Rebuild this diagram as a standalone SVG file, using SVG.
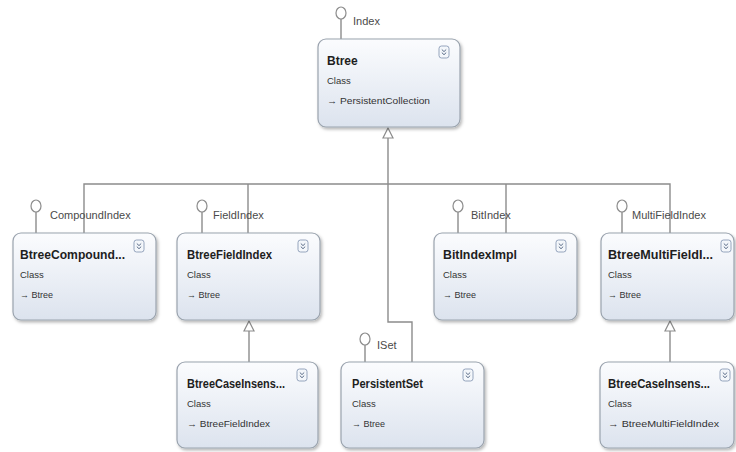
<svg xmlns="http://www.w3.org/2000/svg" width="736" height="452" viewBox="0 0 736 452">
<defs>
<linearGradient id="boxg" x1="0" y1="0" x2="0" y2="1">
<stop offset="0" stop-color="#fbfcfe"/>
<stop offset="1" stop-color="#dce3ee"/>
</linearGradient>
<filter id="sh" x="-10%" y="-10%" width="125%" height="130%">
<feDropShadow dx="1.5" dy="2" stdDeviation="1.5" flood-color="#000" flood-opacity="0.28"/>
</filter>
<g id="chev">
<rect x="0" y="0" width="10" height="12" rx="2.5" fill="#f4f7fb" stroke="#8a9bb5" stroke-width="0.9"/>
<path d="M2.8 3.5 L5 5.6 L7.2 3.5 M2.8 6.6 L5 8.7 L7.2 6.6" fill="none" stroke="#5a6c88" stroke-width="1"/>
</g>
</defs>
<style>
.box{fill:url(#boxg);stroke:#9aa3ae;stroke-width:1.2;filter:url(#sh)}
.nm{font-family:"Liberation Sans",Arial,sans-serif;font-size:12px;font-weight:bold;fill:#1e1e1e}
.cl{font-family:"Liberation Sans",Arial,sans-serif;font-size:9.5px;fill:#333}
.bs{font-family:"Liberation Sans",Arial,sans-serif;font-size:9px;fill:#333}
.ar{font-weight:bold}
.lb{font-family:"Liberation Sans",Arial,sans-serif;font-size:11px;fill:#4a4a4a}
.ln{fill:none;stroke:#8c8c8c;stroke-width:1.4}
.tri{fill:#fff;stroke:#8c8c8c;stroke-width:1.2}
.lol{fill:#fff;stroke:#8c8c8c;stroke-width:1.2}
</style>
<rect width="736" height="452" fill="#fff"/>

<g id="connectors">
<path class="ln" d="M388 138 V322 H412 V362"/>
<path class="ln" d="M84 233 V184 H670 V233"/>
<path class="ln" d="M248 184 V233"/>
<path class="ln" d="M506 184 V233"/>
<polygon class="tri" points="388,128 383,138 393,138"/>
<path class="ln" d="M249 331 V362"/>
<polygon class="tri" points="249,321 244,331 254,331"/>
<path class="ln" d="M670 331 V362"/>
<polygon class="tri" points="670,321 665,331 675,331"/>
</g>

<g id="node-btree">
<path class="ln" d="M341 19 V39"/>
<ellipse class="lol" cx="341" cy="13" rx="5" ry="6"/>
<text class="lb" x="353" y="25">Index</text>
<rect class="box" x="318" y="39" width="142" height="88" rx="8"/>
<text class="nm" x="327" y="65">Btree</text>
<text class="cl" x="327" y="84">Class</text>
<text class="bs" x="327" y="104" textLength="103" lengthAdjust="spacingAndGlyphs"><tspan class="ar">→</tspan> PersistentCollection</text>
<use href="#chev" x="439" y="46"/>
</g>

<g id="node-compound">
<path class="ln" d="M36 212 V233"/>
<ellipse class="lol" cx="36" cy="206" rx="5" ry="6"/>
<text class="lb" x="50" y="219">CompoundIndex</text>
<rect class="box" x="13" y="233" width="143" height="87" rx="8"/>
<text class="nm" x="20" y="259" textLength="105" lengthAdjust="spacingAndGlyphs">BtreeCompound...</text>
<text class="cl" x="20" y="278">Class</text>
<text class="bs" x="20" y="298"><tspan class="ar">→</tspan> Btree</text>
<use href="#chev" x="134" y="240"/>
</g>

<g id="node-fieldindex">
<path class="ln" d="M202 212 V233"/>
<ellipse class="lol" cx="202" cy="206" rx="5" ry="6"/>
<text class="lb" x="213" y="219">FieldIndex</text>
<rect class="box" x="177" y="233" width="143" height="87" rx="8"/>
<text class="nm" x="187" y="259" textLength="85" lengthAdjust="spacingAndGlyphs">BtreeFieldIndex</text>
<text class="cl" x="187" y="278">Class</text>
<text class="bs" x="187" y="298"><tspan class="ar">→</tspan> Btree</text>
<use href="#chev" x="298" y="240"/>
</g>

<g id="node-bitindex">
<path class="ln" d="M458 212 V233"/>
<ellipse class="lol" cx="458" cy="206" rx="5" ry="6"/>
<text class="lb" x="471" y="219">BitIndex</text>
<rect class="box" x="434" y="233" width="143" height="87" rx="8"/>
<text class="nm" x="443" y="259" textLength="74" lengthAdjust="spacingAndGlyphs">BitIndexImpl</text>
<text class="cl" x="443" y="278">Class</text>
<text class="bs" x="443" y="298"><tspan class="ar">→</tspan> Btree</text>
<use href="#chev" x="556" y="240"/>
</g>

<g id="node-multifield">
<path class="ln" d="M622 212 V233"/>
<ellipse class="lol" cx="622" cy="206" rx="5" ry="6"/>
<text class="lb" x="632" y="219">MultiFieldIndex</text>
<rect class="box" x="601" y="233" width="133" height="87" rx="8"/>
<text class="nm" x="608" y="259" textLength="105" lengthAdjust="spacingAndGlyphs">BtreeMultiFieldI...</text>
<text class="cl" x="608" y="278">Class</text>
<text class="bs" x="608" y="298"><tspan class="ar">→</tspan> Btree</text>
<use href="#chev" x="721" y="240"/>
</g>

<g id="node-caseinsens-field">
<rect class="box" x="177" y="362" width="141" height="86" rx="8"/>
<text class="nm" x="187" y="388" textLength="98" lengthAdjust="spacingAndGlyphs">BtreeCaseInsens...</text>
<text class="cl" x="187" y="407">Class</text>
<text class="bs" x="187" y="427" textLength="83" lengthAdjust="spacingAndGlyphs"><tspan class="ar">→</tspan> BtreeFieldIndex</text>
<use href="#chev" x="297" y="369"/>
</g>

<g id="node-persistentset">
<path class="ln" d="M365 345 V362"/>
<ellipse class="lol" cx="365" cy="339" rx="5" ry="6"/>
<text class="lb" x="377" y="349">ISet</text>
<rect class="box" x="341" y="362" width="143" height="86" rx="8"/>
<text class="nm" x="352" y="388" textLength="71" lengthAdjust="spacingAndGlyphs">PersistentSet</text>
<text class="cl" x="352" y="407">Class</text>
<text class="bs" x="352" y="427"><tspan class="ar">→</tspan> Btree</text>
<use href="#chev" x="463" y="369"/>
</g>

<g id="node-caseinsens-multi">
<rect class="box" x="600" y="362" width="134" height="86" rx="8"/>
<text class="nm" x="608" y="388" textLength="102" lengthAdjust="spacingAndGlyphs">BtreeCaseInsens...</text>
<text class="cl" x="608" y="407">Class</text>
<text class="bs" x="608" y="427" textLength="111" lengthAdjust="spacingAndGlyphs"><tspan class="ar">→</tspan> BtreeMultiFieldIndex</text>
<use href="#chev" x="720" y="369"/>
</g>
</svg>
